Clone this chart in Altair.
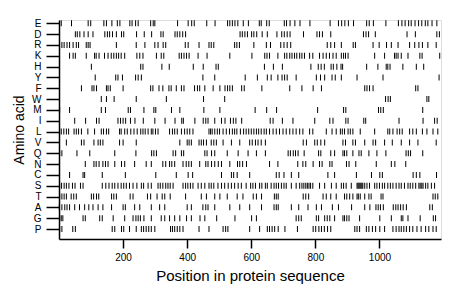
import altair as alt
import pandas as pd

amino_order = ["E", "D", "R", "K", "H", "Y", "F", "W", "M", "I",
               "L", "V", "Q", "N", "C", "S", "T", "A", "G", "P"]

E = [7, 39, 91, 99, 140, 148, 165, 182, 190, 221, 228, 239, 247, 286, 294, 299, 370, 403, 414, 422, 461, 487, 526, 533, 541, 549, 558, 575, 591, 625, 631, 648, 656, 703, 710, 721, 736, 752, 783, 846, 872, 882, 892, 903, 919, 960, 968, 981, 1020, 1059, 1070, 1080, 1091, 1099, 1111, 1122, 1132, 1143, 1151, 1164, 1179]
D = [51, 57, 65, 78, 91, 106, 143, 151, 158, 167, 179, 195, 202, 242, 266, 289, 318, 325, 362, 369, 377, 386, 395, 565, 572, 580, 588, 601, 608, 617, 634, 650, 680, 695, 703, 712, 721, 763, 805, 813, 822, 848, 950, 958, 966, 987, 1086, 1112, 1179, 1187]
R = [9, 16, 25, 33, 44, 54, 61, 85, 91, 97, 179, 241, 268, 299, 309, 325, 333, 394, 403, 437, 468, 475, 483, 548, 555, 563, 608, 647, 660, 692, 702, 712, 723, 837, 848, 860, 881, 918, 925, 980, 999, 1022, 1037, 1058, 1094, 1110, 1123, 1134, 1151, 1177]
K = [33, 44, 51, 85, 111, 116, 125, 142, 153, 163, 171, 179, 186, 194, 205, 243, 252, 262, 304, 319, 327, 375, 382, 390, 398, 406, 434, 462, 533, 602, 642, 649, 657, 683, 704, 711, 720, 727, 735, 742, 751, 758, 766, 782, 792, 813, 824, 834, 844, 855, 865, 881, 888, 894, 902, 985, 1016, 1047, 1052, 1058, 1068, 1089, 1126, 1133, 1188]
H = [101, 255, 262, 321, 344, 419, 450, 490, 497, 641, 669, 697, 786, 809, 818, 828, 849, 856, 867, 880, 885, 960, 995, 1021, 1026, 1033, 1073, 1115, 1138]
Y = [113, 177, 184, 198, 239, 247, 257, 449, 486, 581, 619, 650, 662, 683, 696, 704, 712, 740, 803, 816, 829, 852, 862, 881, 930, 1011, 1186]
F = [70, 103, 109, 117, 148, 153, 160, 200, 286, 293, 312, 324, 343, 350, 366, 382, 390, 423, 432, 439, 455, 481, 502, 518, 526, 533, 541, 570, 578, 633, 720, 758, 793, 819, 954, 961, 969, 980, 1113, 1120]
W = [132, 148, 172, 241, 335, 451, 517, 1019, 1027, 1034, 1148, 1154]
M = [2, 33, 132, 145, 216, 223, 265, 296, 302, 351, 377, 452, 502, 612, 648, 679, 807, 888, 895, 997, 1004, 1012, 1135]
I = [49, 83, 117, 125, 184, 192, 200, 208, 223, 237, 263, 299, 331, 362, 383, 388, 424, 450, 458, 465, 486, 507, 518, 535, 544, 552, 570, 659, 668, 697, 730, 798, 845, 855, 895, 902, 951, 957, 1061, 1136, 1172, 1180]
L = [7, 15, 23, 30, 47, 54, 61, 70, 90, 111, 132, 139, 148, 155, 189, 194, 205, 213, 224, 234, 244, 255, 262, 269, 278, 288, 293, 301, 309, 345, 354, 361, 369, 382, 392, 400, 408, 418, 468, 473, 478, 486, 494, 501, 512, 522, 532, 541, 548, 555, 566, 576, 584, 592, 600, 608, 616, 623, 631, 640, 647, 657, 668, 678, 688, 699, 709, 720, 730, 740, 751, 761, 782, 792, 834, 852, 865, 878, 884, 891, 902, 909, 917, 940, 985, 1026, 1032, 1042, 1055, 1063, 1071, 1094, 1104, 1115, 1134, 1148, 1167, 1182]
V = [23, 70, 78, 109, 122, 129, 137, 189, 200, 241, 377, 400, 406, 413, 437, 444, 451, 460, 475, 483, 491, 512, 538, 564, 595, 603, 613, 621, 631, 644, 762, 772, 798, 806, 817, 829, 886, 894, 917, 925, 954, 980, 988, 1016, 1040, 1068, 1094, 1120, 1177]
Q = [2, 9, 56, 96, 174, 240, 289, 296, 304, 356, 364, 382, 389, 455, 462, 476, 486, 525, 559, 590, 616, 644, 715, 722, 731, 738, 746, 765, 810, 817, 848, 860, 886, 891, 898, 917, 936, 943, 967, 992, 1020, 1083, 1090, 1097, 1135]
N = [82, 109, 116, 125, 137, 145, 153, 174, 195, 205, 236, 272, 288, 324, 333, 345, 352, 361, 387, 397, 405, 413, 439, 458, 465, 476, 486, 497, 507, 533, 557, 564, 573, 585, 657, 683, 745, 761, 770, 793, 813, 821, 845, 852, 897, 905, 926, 990, 1037, 1048, 1082]
C = [33, 75, 80, 135, 207, 302, 366, 403, 417, 507, 538, 545, 556, 595, 678, 687, 702, 725, 748, 839, 860, 928, 975, 1001, 1009, 1105, 1115, 1126, 1178]
S = [2, 8, 16, 23, 31, 42, 50, 67, 75, 135, 146, 156, 166, 174, 184, 194, 202, 210, 220, 231, 243, 257, 264, 278, 288, 309, 316, 324, 333, 340, 347, 356, 387, 395, 402, 410, 418, 434, 444, 455, 468, 475, 483, 496, 507, 517, 528, 538, 548, 559, 569, 584, 598, 605, 613, 626, 633, 644, 650, 662, 671, 678, 685, 694, 702, 709, 725, 740, 751, 758, 764, 770, 775, 780, 785, 792, 813, 829, 850, 865, 881, 888, 896, 912, 930, 933, 936, 939, 942, 945, 948, 954, 961, 969, 985, 992, 1000, 1009, 1016, 1026, 1034, 1042, 1052, 1061, 1068, 1078, 1089, 1096, 1104, 1113, 1123, 1127, 1132, 1136, 1144, 1151, 1162, 1172]
T = [2, 9, 16, 23, 38, 46, 54, 101, 108, 117, 124, 164, 171, 179, 222, 231, 276, 286, 306, 322, 330, 347, 395, 444, 460, 486, 502, 525, 556, 574, 606, 616, 632, 672, 678, 684, 762, 770, 779, 824, 834, 848, 865, 891, 898, 907, 917, 930, 934, 940, 954, 967, 974, 1005, 1011, 1167, 1174, 1182]
A = [1, 9, 18, 25, 33, 49, 64, 80, 93, 106, 122, 137, 164, 200, 207, 236, 252, 288, 314, 330, 400, 413, 449, 458, 465, 486, 533, 564, 595, 632, 671, 678, 684, 725, 748, 777, 803, 819, 853, 872, 913, 954, 970, 989, 996, 1003, 1012, 1043, 1051, 1058, 1066, 1074, 1084, 1157, 1165]
G = [2, 7, 12, 75, 82, 127, 135, 169, 205, 231, 240, 247, 254, 265, 288, 319, 330, 345, 361, 377, 398, 413, 440, 455, 492, 549, 601, 616, 740, 748, 756, 803, 810, 829, 837, 845, 860, 886, 891, 898, 905, 938, 1001, 1037, 1068, 1073, 1089, 1127, 1168, 1175]
P = [2, 9, 43, 51, 166, 174, 195, 202, 220, 241, 257, 264, 272, 280, 288, 299, 348, 354, 361, 369, 377, 387, 437, 468, 512, 520, 527, 595, 626, 650, 657, 665, 673, 684, 705, 744, 793, 801, 811, 819, 828, 838, 848, 923, 930, 938, 959, 967, 978, 988, 1001, 1016, 1042, 1052, 1061, 1068, 1076, 1084, 1094, 1104, 1117, 1130, 1144, 1154, 1167, 1177]

positions = {"E": E, "D": D, "R": R, "K": K, "H": H, "Y": Y, "F": F, "W": W,
             "M": M, "I": I, "L": L, "V": V, "Q": Q, "N": N, "C": C, "S": S,
             "T": T, "A": A, "G": G, "P": P}

x_ticks = [200, 400, 600, 800, 1000]
seq_max = 1192

rows = []
for aa in amino_order:
    for p in positions[aa]:
        rows.append({"aa": aa, "pos": p})
df = pd.DataFrame(rows)

FONT = "Liberation Sans"

chart = alt.Chart(df).mark_tick(color="black", thickness=1, size=6, opacity=1).encode(
    x=alt.X("pos:Q",
            scale=alt.Scale(domain=[0, seq_max], nice=False, zero=False),
            axis=alt.Axis(values=x_ticks, format="d", title="Position in protein sequence",
                          grid=False, tickSize=9, tickWidth=1.5, domainWidth=1.5,
                          labelFontSize=10, labelPadding=4, labelFont=FONT,
                          titleFont=FONT, titleFontSize=15, titleFontWeight="normal",
                          titlePadding=6, domainColor="black", tickColor="black",
                          labelColor="black", titleColor="black")),
    y=alt.Y("aa:N", sort=amino_order,
            scale=alt.Scale(type="point", padding=0.615, align=0.25),
            axis=alt.Axis(title="Amino acid", grid=False, tickSize=13, tickWidth=1.5,
                          domainWidth=1.5, labelFontSize=10, labelPadding=5,
                          labelFont=FONT, titleFont=FONT, titleFontSize=14,
                          titleFontWeight="normal", titlePadding=5,
                          domainColor="black", tickColor="black",
                          labelColor="black", titleColor="black")),
).properties(
    width=382, height=219,
    autosize=alt.AutoSizeParams(type="none"),
    padding={"left": 51, "top": 12, "right": 10, "bottom": 50},
).configure_view(stroke=None).configure(background="white")

chart.save("out.html", embed_options={"renderer": "svg", "actions": False})
